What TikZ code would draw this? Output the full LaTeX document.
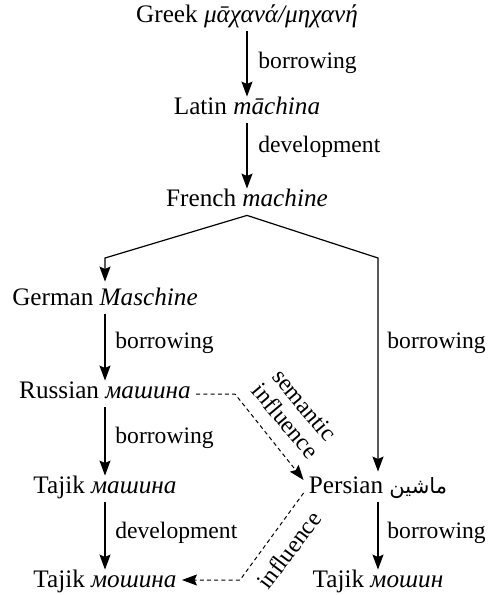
\documentclass[tikz,border=0pt]{standalone}
\usepackage{fontspec}
\setmainfont{Liberation Serif}
\newfontfamily\arabicfont[Script=Arabic]{DejaVu Sans}
\TeXXeTstate=1
\usetikzlibrary{arrows.meta,calc}

\begin{document}
\begin{tikzpicture}[x=0.5pt,y=-0.5pt,
  lang/.style={anchor=base, inner xsep=2.5pt, inner ysep=0.5pt, text height=8pt, text depth=4pt, font=\fontsize{12.6}{14}\selectfont},
  lbl/.style={anchor=base west, inner sep=0pt, font=\fontsize{11.8}{14}\selectfont},
  rot/.style={inner sep=0pt, align=center, font=\fontsize{12}{12.4}\selectfont},
  tip/.style={-{Stealth[length=7.5pt,width=5.5pt,inset=1.2pt]}},
  arr/.style={line width=0.6pt, tip},
  dsh/.style={line width=0.5pt, dash pattern=on 2pt off 1.6pt, tip},
]
\useasboundingbox (0,0) rectangle (488,595);

% language nodes
\node[lang] (greek)   at (247,22)  {Greek {\itshape μᾱχανά/μηχανή}};
\node[lang] (latin)   at (247,114) {Latin {\itshape māchina}};
\node[lang] (french)  at (247,206) {French {\itshape machine}};
\node[lang] (german)  at (105,305) {German {\itshape Maschine}};
\node[lang] (russian) at (105,398) {Russian {\itshape машина}};
\node[lang] (tajikA)  at (105,493) {Tajik {\itshape машина}};
\node[lang] (persian) at (378,493) {Persian {\arabicfont\fontsize{10.5}{12}\selectfont\beginR ماشين\endR}};
\node[lang] (tajikB)  at (105,587) {Tajik {\itshape мошина}};
\node[lang] (tajikC)  at (378,587) {Tajik {\itshape мошин}};

% solid arrows
\draw[arr] (greek.south) -- (latin.north);
\draw[arr] (latin.south) -- (french.north);
\coordinate (kl) at (105,258);
\coordinate (kr) at (378,258);
\draw[arr] (french.south) -- (kl) -- ($(german.north)+(0,3pt)$);
\draw[arr] (french.south) -- (kr) -- ($(persian.north)+(0,2pt)$);
\draw[arr] (german.south) -- (russian.north);
\draw[arr] (russian.south) -- (tajikA.north);
\draw[arr] (tajikA.south) -- (tajikB.north);
\draw[arr] (persian.south) -- (tajikC.north);

% edge labels
\node[lbl] (l1) at (258,68)  {borrowing};
\node[lbl] (l2) at (258,152) {development};
\node[lbl] (l3) at (115,348) {borrowing};
\node[lbl] (l4) at (387,348) {borrowing};
\node[lbl] (l5) at (115,443) {borrowing};
\node[lbl] (l6) at (115,538) {development};
\node[lbl] (l7) at (387,538) {borrowing};

% dashed influence arrows
\coordinate (rb) at (235,394);
\draw[dsh] ($(russian.base east)+(0,2pt)$) -- (rb) -- ($(persian.base west)+(0,6.5pt)$);
\coordinate (pb) at (240,580);
\draw[dsh] (persian.base west) -- (pb) -- ($(tajikB.base east)+(0,3.5pt)$);

\node[rot, rotate=-50] (sem) at (295,413) {semantic\\influence};
\node[rot, rotate=53] (inf) at (289,550) {influence};
\end{tikzpicture}
\end{document}
